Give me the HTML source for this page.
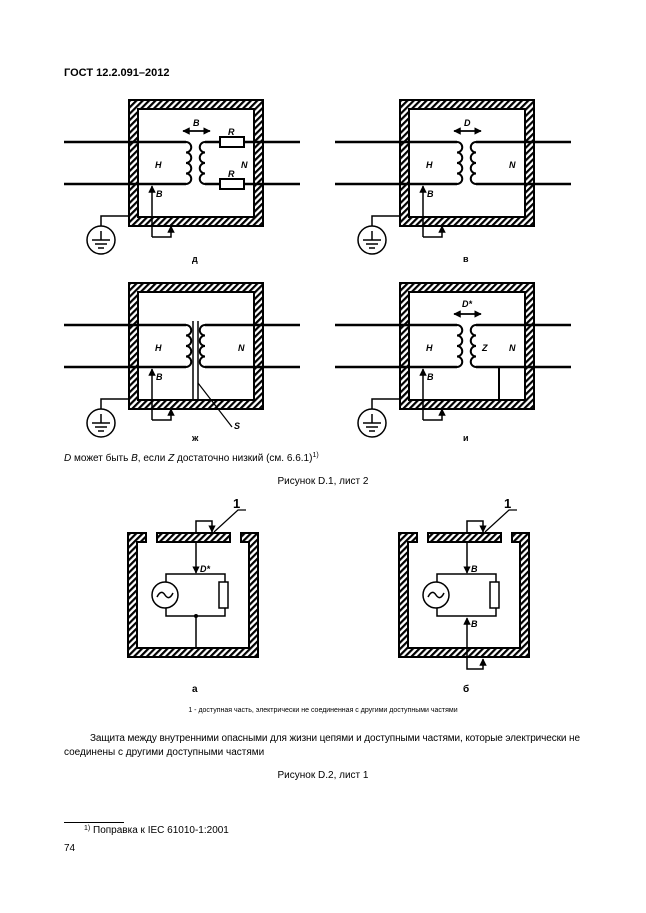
<!DOCTYPE html>
<html><head><meta charset="utf-8"><style>
html,body{margin:0;padding:0;background:#fff;}
body{width:646px;height:913px;position:relative;overflow:hidden;font-family:"Liberation Sans",sans-serif;}
svg{position:absolute;left:0;top:0;}
</style></head><body>
<svg width="646" height="913" viewBox="0 0 646 913" xmlns="http://www.w3.org/2000/svg">
<defs>
<pattern id="h" patternUnits="userSpaceOnUse" width="4.5" height="4.5" patternTransform="rotate(45)">
<rect width="4.5" height="4.5" fill="#fff"/><rect width="2.2" height="4.5" fill="#000"/>
</pattern>
<marker id="ar" viewBox="0 0 10 10" refX="9" refY="5" markerWidth="5" markerHeight="5" orient="auto"><path d="M0,0 L10,5 L0,10z" fill="#000"/></marker>
</defs>
<g font-family="Liberation Sans, sans-serif">
<text x="64" y="76" font-size="11" font-weight="bold">ГОСТ 12.2.091–2012</text>
</g>

<g id="p1" stroke="#000" fill="none">
<path d="M129,100 H263 V226 H129Z M138,109 V217 H254 V109Z" fill="url(#h)" fill-rule="evenodd" stroke-width="2"/>
<path d="M64,142 H186 M64,184 H186 M205,142 H300 M205,184 H300" stroke-width="2.5"/>
<path d="M186,142 a5.25,5.25 0 0 1 0,10.5 a5.25,5.25 0 0 1 0,10.5 a5.25,5.25 0 0 1 0,10.5 a5.25,5.25 0 0 1 0,10.5" stroke-width="2"/>
<path d="M205,142 a5.25,5.25 0 0 0 0,10.5 a5.25,5.25 0 0 0 0,10.5 a5.25,5.25 0 0 0 0,10.5 a5.25,5.25 0 0 0 0,10.5" stroke-width="2"/>
<rect x="220" y="137" width="24" height="10" fill="#fff" stroke-width="2"/>
<rect x="220" y="179" width="24" height="10" fill="#fff" stroke-width="2"/>
<path d="M152,237 V186" stroke-width="1.5" marker-end="url(#ar)"/>
<path d="M152,237 H171 V226" stroke-width="1.5" marker-end="url(#ar)"/>
<path d="M183,131 H210" stroke-width="1.5" marker-end="url(#ar)"/><path d="M210,131 H183" stroke-width="1.5" marker-end="url(#ar)"/>
<path d="M129,216 H101 V226" stroke-width="1.5"/>
<circle cx="101" cy="240" r="14" stroke-width="1.5"/>
<path d="M101,231 V240 M92,240 H110 M95,244 H107 M98,248 H104" stroke-width="1.5"/>
</g>
<g font-family="Liberation Sans, sans-serif" font-size="9" font-weight="bold" font-style="italic">
<text x="193" y="126">B</text><text x="228" y="135">R</text><text x="228" y="177">R</text>
<text x="155" y="168">H</text><text x="241" y="168">N</text><text x="156" y="197">B</text>
<text x="192" y="262" font-style="normal">д</text>
</g>

<g transform="translate(271,0)" stroke="#000" fill="none">
<path d="M129,100 H263 V226 H129Z M138,109 V217 H254 V109Z" fill="url(#h)" fill-rule="evenodd" stroke-width="2"/>
<path d="M64,142 H186 M64,184 H186 M205,142 H300 M205,184 H300" stroke-width="2.5"/>
<path d="M186,142 a5.25,5.25 0 0 1 0,10.5 a5.25,5.25 0 0 1 0,10.5 a5.25,5.25 0 0 1 0,10.5 a5.25,5.25 0 0 1 0,10.5" stroke-width="2"/>
<path d="M205,142 a5.25,5.25 0 0 0 0,10.5 a5.25,5.25 0 0 0 0,10.5 a5.25,5.25 0 0 0 0,10.5 a5.25,5.25 0 0 0 0,10.5" stroke-width="2"/>
<path d="M152,237 V186" stroke-width="1.5" marker-end="url(#ar)"/>
<path d="M152,237 H171 V226" stroke-width="1.5" marker-end="url(#ar)"/>
<path d="M183,131 H210" stroke-width="1.5" marker-end="url(#ar)"/><path d="M210,131 H183" stroke-width="1.5" marker-end="url(#ar)"/>
<path d="M129,216 H101 V226" stroke-width="1.5"/>
<circle cx="101" cy="240" r="14" stroke-width="1.5"/>
<path d="M101,231 V240 M92,240 H110 M95,244 H107 M98,248 H104" stroke-width="1.5"/>
</g>
<g transform="translate(271,0)" font-family="Liberation Sans, sans-serif" font-size="9" font-weight="bold" font-style="italic">
<text x="193" y="126">D</text>
<text x="155" y="168">H</text><text x="238" y="168">N</text><text x="156" y="197">B</text>
<text x="192" y="262" font-style="normal">в</text>
</g>

<g transform="translate(0,183)" stroke="#000" fill="none">
<path d="M129,100 H263 V226 H129Z M138,109 V217 H254 V109Z" fill="url(#h)" fill-rule="evenodd" stroke-width="2"/>
<path d="M64,142 H186 M64,184 H186 M205,142 H300 M205,184 H300" stroke-width="2.5"/>
<path d="M186,142 a5.25,5.25 0 0 1 0,10.5 a5.25,5.25 0 0 1 0,10.5 a5.25,5.25 0 0 1 0,10.5 a5.25,5.25 0 0 1 0,10.5" stroke-width="2"/>
<path d="M205,142 a5.25,5.25 0 0 0 0,10.5 a5.25,5.25 0 0 0 0,10.5 a5.25,5.25 0 0 0 0,10.5 a5.25,5.25 0 0 0 0,10.5" stroke-width="2"/>
<path d="M193,138 V217 M198,138 V217" stroke-width="1.5"/>
<path d="M198,200 L232,244" stroke-width="1.2"/>
<path d="M152,237 V186" stroke-width="1.5" marker-end="url(#ar)"/>
<path d="M152,237 H171 V226" stroke-width="1.5" marker-end="url(#ar)"/>
<path d="M129,216 H101 V226" stroke-width="1.5"/>
<circle cx="101" cy="240" r="14" stroke-width="1.5"/>
<path d="M101,231 V240 M92,240 H110 M95,244 H107 M98,248 H104" stroke-width="1.5"/>
</g>
<g transform="translate(0,183)" font-family="Liberation Sans, sans-serif" font-size="9" font-weight="bold" font-style="italic">
<text x="155" y="168">H</text><text x="238" y="168">N</text><text x="156" y="197">B</text>
<text x="234" y="246">S</text>
<text x="192" y="258" font-style="normal">ж</text>
</g>

<g transform="translate(271,183)" stroke="#000" fill="none">
<path d="M129,100 H263 V226 H129Z M138,109 V217 H254 V109Z" fill="url(#h)" fill-rule="evenodd" stroke-width="2"/>
<path d="M64,142 H186 M64,184 H186 M205,142 H300 M205,184 H300" stroke-width="2.5"/>
<path d="M186,142 a5.25,5.25 0 0 1 0,10.5 a5.25,5.25 0 0 1 0,10.5 a5.25,5.25 0 0 1 0,10.5 a5.25,5.25 0 0 1 0,10.5" stroke-width="2"/>
<path d="M205,142 a5.25,5.25 0 0 0 0,10.5 a5.25,5.25 0 0 0 0,10.5 a5.25,5.25 0 0 0 0,10.5 a5.25,5.25 0 0 0 0,10.5" stroke-width="2"/>
<path d="M228,184 V217" stroke-width="2"/>
<path d="M152,237 V186" stroke-width="1.5" marker-end="url(#ar)"/>
<path d="M152,237 H171 V226" stroke-width="1.5" marker-end="url(#ar)"/>
<path d="M183,131 H210" stroke-width="1.5" marker-end="url(#ar)"/><path d="M210,131 H183" stroke-width="1.5" marker-end="url(#ar)"/>
<path d="M129,216 H101 V226" stroke-width="1.5"/>
<circle cx="101" cy="240" r="14" stroke-width="1.5"/>
<path d="M101,231 V240 M92,240 H110 M95,244 H107 M98,248 H104" stroke-width="1.5"/>
</g>
<g transform="translate(271,183)" font-family="Liberation Sans, sans-serif" font-size="9" font-weight="bold" font-style="italic">
<text x="191" y="124">D*</text>
<text x="155" y="168">H</text><text x="211" y="168">Z</text><text x="238" y="168">N</text><text x="156" y="197">B</text>
<text x="192" y="258" font-style="normal">и</text>
</g>

<g font-family="Liberation Sans, sans-serif" font-size="10">
<text x="64" y="461"><tspan font-style="italic">D</tspan> может быть <tspan font-style="italic">B</tspan>, если <tspan font-style="italic">Z</tspan> достаточно низкий (см. 6.6.1)<tspan font-size="7" dy="-4">1)</tspan></text>
<text x="323" y="484" text-anchor="middle">Рисунок D.1, лист 2</text>
</g>

<g stroke="#000" fill="none">
<path d="M128,533 H146 V542 H137 V648 H249 V542 H241 V533 H258 V657 H128Z" fill="url(#h)" stroke-width="2"/>
<rect x="157" y="533" width="73" height="9" fill="url(#h)" stroke-width="2"/>
<path d="M196,542 V573" stroke-width="1.5" marker-end="url(#ar)"/>
<path d="M196,533 V521 H212 V532" stroke-width="1.5" marker-end="url(#ar)"/>
<path d="M214,532 L238,510 H246" stroke-width="1.2"/>
<path d="M166,574 H225 V616 H166Z" stroke-width="1.5"/>
<circle cx="165" cy="595" r="13" fill="#fff" stroke-width="1.5"/>
<path d="M157,597 q4,-8 8,-2 t8,-2" stroke-width="1.5"/>
<rect x="219" y="582" width="9" height="26" fill="#fff" stroke-width="1.5"/>
<path d="M196,616 V648" stroke-width="1.5"/>
<circle cx="196" cy="616" r="1.5" fill="#000"/>
</g>
<g font-family="Liberation Sans, sans-serif" font-weight="bold">
<text x="233" y="508" font-size="13">1</text>
<text x="200" y="572" font-size="9" font-style="italic">D*</text>
<text x="192" y="692" font-size="10">а</text>
</g>

<g transform="translate(271,0)" stroke="#000" fill="none">
<path d="M128,533 H146 V542 H137 V648 H249 V542 H241 V533 H258 V657 H128Z" fill="url(#h)" stroke-width="2"/>
<rect x="157" y="533" width="73" height="9" fill="url(#h)" stroke-width="2"/>
<path d="M196,542 V573" stroke-width="1.5" marker-end="url(#ar)"/>
<path d="M196,533 V521 H212 V532" stroke-width="1.5" marker-end="url(#ar)"/>
<path d="M214,532 L238,510 H246" stroke-width="1.2"/>
<path d="M166,574 H225 V616 H166Z" stroke-width="1.5"/>
<circle cx="165" cy="595" r="13" fill="#fff" stroke-width="1.5"/>
<path d="M157,597 q4,-8 8,-2 t8,-2" stroke-width="1.5"/>
<rect x="219" y="582" width="9" height="26" fill="#fff" stroke-width="1.5"/>
<path d="M196,657 V618" stroke-width="1.5" marker-end="url(#ar)"/>
<path d="M196,657 V669 H212 V659" stroke-width="1.5" marker-end="url(#ar)"/>
</g>
<g transform="translate(271,0)" font-family="Liberation Sans, sans-serif" font-weight="bold">
<text x="233" y="508" font-size="13">1</text>
<text x="200" y="572" font-size="9" font-style="italic">B</text>
<text x="200" y="627" font-size="9" font-style="italic">B</text>
<text x="192" y="692" font-size="10">б</text>
</g>

<g font-family="Liberation Sans, sans-serif" font-size="10">
<text x="323" y="712" text-anchor="middle" font-size="7">1 - доступная часть, электрически не соединенная с другими доступными частями</text>
<text x="90" y="741" textLength="490" lengthAdjust="spacing">Защита между внутренними опасными для жизни цепями и доступными частями, которые электрически не</text>
<text x="64" y="755">соединены с другими доступными частями</text>
<text x="323" y="778" text-anchor="middle">Рисунок D.2, лист 1</text>
<line x1="64" y1="822.5" x2="124" y2="822.5" stroke="#000" stroke-width="1"/>
<text x="84" y="833"><tspan font-size="7" dy="-3">1)</tspan><tspan dy="3"> Поправка к IEC 61010-1:2001</tspan></text>
<text x="64" y="851">74</text>
</g>
</svg>
</body></html>
